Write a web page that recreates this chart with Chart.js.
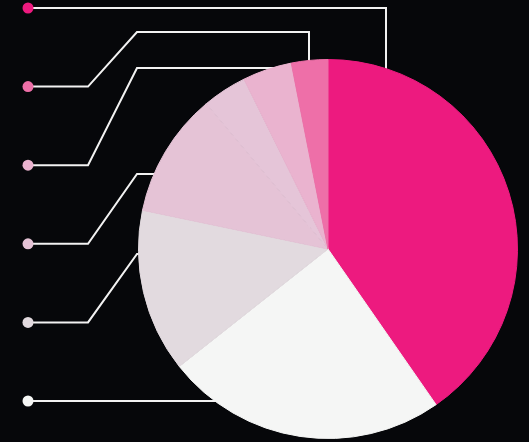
<!DOCTYPE html>
<html>
<head>
<meta charset="utf-8">
<script src="https://cdn.jsdelivr.net/npm/chart.js@4/dist/chart.umd.min.js"></script>
<style>
  html, body { margin: 0; padding: 0; background: #06070a; }
  #wrap { width: 529px; height: 442px; }
</style>
</head>
<body>
<div id="wrap"><canvas id="pieChart" width="529" height="442"></canvas></div>
<script>
// Slice data, clockwise from 12 o'clock
const labels = ["Segment 1", "Segment 2", "Segment 3", "Segment 4", "Segment 5", "Segment 6", "Segment 7"];
const shares = [40.3, 24.0, 13.9, 10.6, 3.8, 4.2, 3.1];
const sliceColors = ["#ed1a7f", "#f5f6f5", "#e2dadf", "#e5c3d6", "#e5c5d8", "#eab3cf", "#ee6fa8"];

// Leader dots on the left, top to bottom, pointing at these slices
const calloutSlices = [0, 6, 5, 3, 2, 1];

// Bend points of each leader line (after the dot); null = stay on the dot's row.
// The last leg runs on behind the pie toward its centre.
const leaderBends = [
  [[386, null]],
  [[88, null], [137, 32], [309, 32]],
  [[88, null], [137, 68]],
  [[88, null], [137, 174]],
  [[88, null], [137, 254]],
  [],
];
const verticalLastLeg = [true, true, false, false, false, false];

const dotTop = 8, dotBottom = 401, dotX = 28;

const leaderPlugin = {
  id: "leaders",
  beforeDatasetsDraw(chart) {
    const ctx = chart.ctx;
    const arc = chart.getDatasetMeta(0).data[0];
    const cx = arc.x, cy = arc.y;
    const step = (dotBottom - dotTop) / (calloutSlices.length - 1);
    ctx.save();
    ctx.strokeStyle = "#f2f2f2";
    ctx.lineWidth = 2;
    calloutSlices.forEach((slice, i) => {
      const y = dotTop + i * step;
      ctx.beginPath();
      ctx.moveTo(dotX, y);
      let last = [dotX, y];
      leaderBends[i].forEach(([bx, by]) => {
        const py = by === null ? y : by;
        ctx.lineTo(bx, py);
        last = [bx, py];
      });
      if (verticalLastLeg[i]) {
        ctx.lineTo(last[0], cy);
      } else {
        ctx.lineTo(cx, last[1]);
      }
      ctx.stroke();
    });
    ctx.restore();
  },
  afterDatasetsDraw(chart) {
    const ctx = chart.ctx;
    const step = (dotBottom - dotTop) / (calloutSlices.length - 1);
    ctx.save();
    calloutSlices.forEach((slice, i) => {
      ctx.beginPath();
      ctx.fillStyle = sliceColors[slice];
      ctx.arc(dotX, dotTop + i * step, 5.5, 0, Math.PI * 2);
      ctx.fill();
    });
    ctx.restore();
  },
};

const bgPlugin = {
  id: "bg",
  beforeDraw(chart) {
    const ctx = chart.ctx;
    ctx.save();
    ctx.fillStyle = "#06070a";
    ctx.fillRect(0, 0, chart.width, chart.height);
    ctx.restore();
  },
};

const pieChart = new Chart(document.getElementById("pieChart"), {
  type: "pie",
  data: {
    labels: labels,
    datasets: [
      {
        data: shares,
        backgroundColor: sliceColors,
        borderColor: sliceColors, // hides the anti-alias seams between slices
        borderWidth: 1,
      },
    ],
  },
  options: {
    responsive: false,
    devicePixelRatio: 1,
    animation: false,
    layout: {
      padding: { left: 138, right: 11, top: 59, bottom: 3 },
    },
    plugins: {
      legend: { display: false },
      tooltip: { enabled: false },
    },
  },
  plugins: [bgPlugin, leaderPlugin],
});
</script>
</body>
</html>
